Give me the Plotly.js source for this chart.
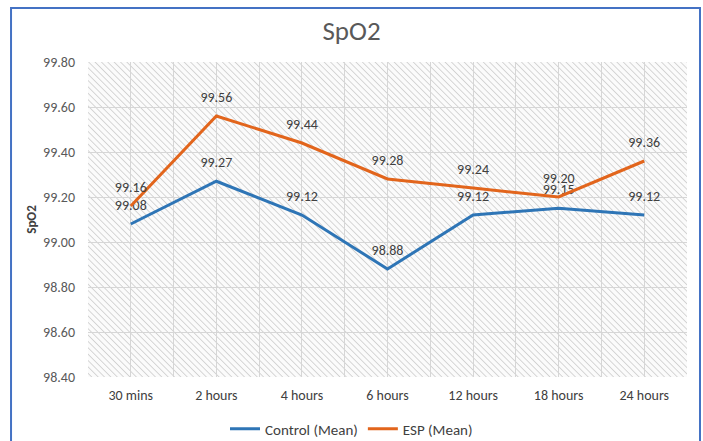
<!DOCTYPE html>
<html>
<head>
<meta charset="utf-8">
<script src="https://cdn.plot.ly/plotly-3.0.1.min.js"></script>
<style>
html,body{margin:0;padding:0;background:#fff;}
#chart{width:703px;height:441px;}
</style>
</head>
<body>
<div id="chart"></div>
<script>
const categories = ["30 mins","2 hours","4 hours","6 hours","12 hours","18 hours","24 hours"];
const controlMean = [99.08, 99.27, 99.12, 98.88, 99.12, 99.15, 99.12];
const espMean = [99.16, 99.56, 99.44, 99.28, 99.24, 99.20, 99.36];
const yTickVals = [98.4, 98.6, 98.8, 99.0, 99.2, 99.4, 99.6, 99.8];

const xIdx = categories.map((c, i) => i);
const fam = "Carlito, Lato, 'Open Sans', sans-serif";
const labelFont = {family: fam, size: 14, color: "#404040"};

const hatchSvg = '<svg xmlns="http://www.w3.org/2000/svg" width="599" height="315">' +
  '<defs><pattern id="h" patternUnits="userSpaceOnUse" width="4.5" height="4.5" patternTransform="rotate(-45)">' +
  '<line x1="0" y1="0" x2="0" y2="5" stroke="#c2c2c2" stroke-width="1.3"/></pattern></defs>' +
  '<rect width="599" height="315" fill="#fbfbfb"/><rect width="599" height="315" fill="url(#h)"/></svg>';
const hatchUri = 'data:image/svg+xml;charset=utf-8,' + encodeURIComponent(hatchSvg);

const traces = [
  {
    x: xIdx, y: controlMean, name: "Control (Mean)", type: "scatter",
    mode: "lines+markers+text",
    line: {color: "#2E75B6", width: 3},
    marker: {size: 15, color: "rgba(0,0,0,0)"},
    text: controlMean.map(v => v.toFixed(2)),
    textposition: "top center",
    textfont: labelFont,
    cliponaxis: false
  },
  {
    x: xIdx, y: espMean, name: "ESP (Mean)", type: "scatter",
    mode: "lines+markers+text",
    line: {color: "#E2651C", width: 3},
    marker: {size: 15, color: "rgba(0,0,0,0)"},
    text: espMean.map(v => v.toFixed(2)),
    textposition: "top center",
    textfont: labelFont,
    cliponaxis: false
  }
];

const layout = {
  width: 703, height: 441,
  margin: {l: 88, r: 16, t: 62, b: 64, autoexpand: false},
  paper_bgcolor: "#ffffff",
  plot_bgcolor: "rgba(0,0,0,0)",
  font: {family: fam, color: "#595959"},
  title: {text: "SpO2", x: 0.5, xref: "container", xanchor: "center", y: 0.93, yref: "container", yanchor: "middle",
          font: {size: 27, color: "#595959", family: fam}},
  xaxis: {
    range: [-0.5, 6.5],
    tickvals: xIdx, ticktext: categories,
    showgrid: true, gridcolor: "#d6d6d6", gridwidth: 1,
    minor: {tickvals: [-0.5,0.5,1.5,2.5,3.5,4.5,5.5,6.5], showgrid: true, gridcolor: "#d6d6d6", gridwidth: 1},
    zeroline: false, showline: false, ticks: "",
    ticklabelstandoff: 8,
    tickfont: {size: 14, color: "#404040", family: fam},
    automargin: false,
    fixedrange: true
  },
  yaxis: {
    range: [98.4, 99.8],
    tickvals: yTickVals, ticktext: yTickVals.map(v => v.toFixed(2)),
    showgrid: true, gridcolor: "#d6d6d6", gridwidth: 1,
    zeroline: false, showline: false, ticks: "",
    ticklabelstandoff: 12,
    tickfont: {size: 14, color: "#595959", family: fam},
    title: {text: "<b>SpO2</b>", font: {size: 13, color: "#404040", family: fam}, standoff: 3},
    automargin: false,
    fixedrange: true
  },
  showlegend: true,
  legend: {orientation: "h", xref: "container", x: 0.5, xanchor: "center", y: -0.165, yanchor: "middle",
           font: {size: 15, color: "#404040", family: fam}, bgcolor: "rgba(0,0,0,0)"},
  images: [{
    source: hatchUri, xref: "paper", yref: "paper", x: 0, y: 1, sizex: 1, sizey: 1,
    xanchor: "left", yanchor: "top", sizing: "stretch", layer: "below"
  }],
  shapes: [{
    type: "rect", xref: "paper", yref: "paper",
    x0: -0.1285, x1: 1.0217, y0: -0.25, y1: 1.1714,
    line: {color: "#4472C4", width: 2}, fillcolor: "rgba(0,0,0,0)", layer: "above"
  }]
};

Plotly.newPlot("chart", traces, layout, {displayModeBar: false, staticPlot: true});
</script>
</body>
</html>
